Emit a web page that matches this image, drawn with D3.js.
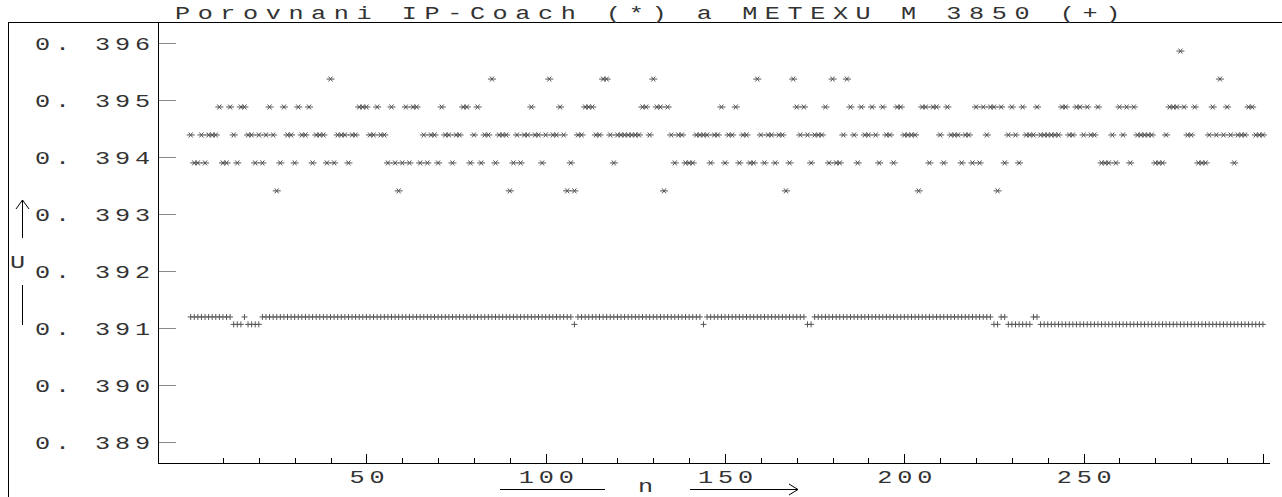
<!DOCTYPE html>
<html>
<head>
<meta charset="utf-8">
<script src="https://cdn.jsdelivr.net/npm/d3@7"></script>
<style>
  body { margin: 0; background: #fff; }
  svg text { font-family: 'Liberation Mono', 'DejaVu Sans Mono', monospace; fill: #333; }
</style>
</head>
<body>
<svg id="chart" width="1282" height="497"></svg>
<script>
'use strict'

// IP-Coach readings (*), one per sample n = 1..300
const coachValues = [
  0.39439, 0.39390, 0.39390, 0.39439, 0.39390, 0.39439, 0.39439, 0.39439, 0.39488, 0.39390,
  0.39390, 0.39488, 0.39439, 0.39390, 0.39488, 0.39488, 0.39439, 0.39439, 0.39390, 0.39439,
  0.39390, 0.39439, 0.39488, 0.39439, 0.39341, 0.39390, 0.39488, 0.39439, 0.39439, 0.39390,
  0.39488, 0.39439, 0.39439, 0.39488, 0.39390, 0.39439, 0.39439, 0.39439, 0.39390, 0.39537,
  0.39390, 0.39439, 0.39439, 0.39439, 0.39390, 0.39439, 0.39439, 0.39488, 0.39488, 0.39488,
  0.39439, 0.39439, 0.39488, 0.39439, 0.39439, 0.39390, 0.39488, 0.39390, 0.39341, 0.39390,
  0.39488, 0.39390, 0.39488, 0.39488, 0.39390, 0.39439, 0.39390, 0.39439, 0.39439, 0.39390,
  0.39488, 0.39439, 0.39439, 0.39390, 0.39439, 0.39439, 0.39488, 0.39488, 0.39390, 0.39439,
  0.39488, 0.39390, 0.39439, 0.39439, 0.39537, 0.39390, 0.39439, 0.39439, 0.39439, 0.39341,
  0.39390, 0.39439, 0.39390, 0.39439, 0.39439, 0.39488, 0.39439, 0.39439, 0.39390, 0.39439,
  0.39537, 0.39439, 0.39439, 0.39488, 0.39439, 0.39341, 0.39390, 0.39341, 0.39439, 0.39439,
  0.39488, 0.39488, 0.39488, 0.39439, 0.39439, 0.39537, 0.39537, 0.39439, 0.39390, 0.39439,
  0.39439, 0.39439, 0.39439, 0.39439, 0.39439, 0.39439, 0.39488, 0.39488, 0.39439, 0.39537,
  0.39488, 0.39488, 0.39341, 0.39488, 0.39439, 0.39390, 0.39439, 0.39439, 0.39390, 0.39390,
  0.39390, 0.39439, 0.39439, 0.39439, 0.39439, 0.39390, 0.39439, 0.39439, 0.39488, 0.39390,
  0.39439, 0.39439, 0.39488, 0.39390, 0.39439, 0.39439, 0.39390, 0.39390, 0.39537, 0.39439,
  0.39390, 0.39439, 0.39439, 0.39390, 0.39439, 0.39439, 0.39341, 0.39390, 0.39537, 0.39488,
  0.39439, 0.39488, 0.39439, 0.39390, 0.39439, 0.39439, 0.39439, 0.39488, 0.39390, 0.39537,
  0.39390, 0.39390, 0.39439, 0.39537, 0.39488, 0.39439, 0.39390, 0.39488, 0.39439, 0.39439,
  0.39488, 0.39439, 0.39390, 0.39488, 0.39439, 0.39439, 0.39390, 0.39488, 0.39488, 0.39439,
  0.39439, 0.39439, 0.39439, 0.39341, 0.39488, 0.39488, 0.39390, 0.39488, 0.39488, 0.39439,
  0.39390, 0.39488, 0.39439, 0.39439, 0.39439, 0.39390, 0.39439, 0.39439, 0.39390, 0.39488,
  0.39390, 0.39488, 0.39439, 0.39488, 0.39488, 0.39341, 0.39488, 0.39390, 0.39439, 0.39488,
  0.39439, 0.39390, 0.39488, 0.39439, 0.39439, 0.39439, 0.39488, 0.39439, 0.39439, 0.39439,
  0.39439, 0.39439, 0.39439, 0.39488, 0.39488, 0.39439, 0.39439, 0.39488, 0.39488, 0.39439,
  0.39488, 0.39439, 0.39439, 0.39488, 0.39390, 0.39390, 0.39390, 0.39439, 0.39390, 0.39488,
  0.39439, 0.39488, 0.39390, 0.39488, 0.39439, 0.39439, 0.39439, 0.39439, 0.39439, 0.39390,
  0.39390, 0.39390, 0.39439, 0.39488, 0.39488, 0.39488, 0.39586, 0.39488, 0.39439, 0.39439,
  0.39488, 0.39390, 0.39390, 0.39390, 0.39439, 0.39488, 0.39439, 0.39537, 0.39439, 0.39488,
  0.39439, 0.39390, 0.39439, 0.39439, 0.39439, 0.39488, 0.39488, 0.39439, 0.39439, 0.39439
]

// METEXU M 3850 readings (+), one per sample n = 1..300
const metexHigh = 0.39120
const metexLow = 0.39107
const metexLowSamples = [13, 14, 15, 17, 18, 19, 20, 108, 144, 173, 174, 225, 226,
  229, 230, 231, 232, 233, 234, 235]
const metexValues = d3.range(1, 301).map(n =>
  (metexLowSamples.includes(n) || n >= 238) ? metexLow : metexHigh)

const yTickValues = [0.389, 0.390, 0.391, 0.392, 0.393, 0.394, 0.395, 0.396]
const xTickValues = [50, 100, 150, 200, 250]

const svg = d3.select('#chart')

const x = d3.scaleLinear().domain([-8, 302]).range([158.4, 1270.1])
const y = d3.scaleLinear().domain([0.38864, 0.39637]).range([463, 22])

// wide, thin lettering like the old plotter font
const FONT = 18
const NATIVE = FONT * 0.6
const SX = 1.4
function wideText (sel, str, px, py, advance, anchor) {
  return sel.append('text')
    .attr('transform', `translate(${px},${py}) scale(${SX},1)`)
    .attr('font-size', FONT)
    .attr('letter-spacing', advance / SX - NATIVE)
    .attr('text-anchor', anchor || 'start')
    .style('white-space', 'pre')
    .text(str)
}

// frame
svg.append('line').attr('x1', 8.5).attr('x2', 8.5).attr('y1', 22).attr('y2', 497)
  .attr('stroke', '#000')
svg.append('line').attr('x1', 8).attr('x2', 1282).attr('y1', 22.5).attr('y2', 22.5)
  .attr('stroke', '#000')

wideText(svg, 'Porovnani IP-Coach (*) a METEXU M 3850 (+)', 175, 19, 22.7)

// axes
svg.append('line').attr('x1', 158.5).attr('x2', 158.5).attr('y1', 22).attr('y2', 463.5)
  .attr('stroke', '#000')
svg.append('line').attr('x1', 158).attr('x2', 1270).attr('y1', 463.5).attr('y2', 463.5)
  .attr('stroke', '#000')

const yTicks = svg.append('g')
yTicks.selectAll('line').data(yTickValues).enter().append('line')
  .attr('x1', 159).attr('x2', 176)
  .attr('y1', d => Math.round(y(d)) + 0.5).attr('y2', d => Math.round(y(d)) + 0.5)
  .attr('stroke', '#888')
yTickValues.forEach(d => {
  wideText(yTicks, d3.format('.3f')(d).replace('.', '. '), 35, y(d) + 7, 20)
})

const xTicks = svg.append('g')
xTicks.selectAll('line').data(d3.range(10, 301, 10)).enter().append('line')
  .attr('x1', d => Math.round(x(d)) + 0.5).attr('x2', d => Math.round(x(d)) + 0.5)
  .attr('y1', 463).attr('y2', d => d % 50 === 0 ? 454 : 458)
  .attr('stroke', '#000')
xTickValues.forEach(d => {
  wideText(xTicks, String(d), x(d) + 3, 483, 20, 'middle')
})

// axis titles
const yLabel = svg.append('g')
yLabel.append('line').attr('x1', 22.5).attr('x2', 22.5).attr('y1', 200).attr('y2', 238).attr('stroke', '#000')
yLabel.append('path').attr('d', 'M16,209L22.5,200L29,209').attr('fill', 'none').attr('stroke', '#000')
wideText(yLabel, 'U', 10, 268, 20)
yLabel.append('line').attr('x1', 22.5).attr('x2', 22.5).attr('y1', 285).attr('y2', 325).attr('stroke', '#000')

const xLabel = svg.append('g')
xLabel.append('line').attr('x1', 500).attr('x2', 605).attr('y1', 489.5).attr('y2', 489.5).attr('stroke', '#000')
wideText(xLabel, 'n', 638, 492, 20)
xLabel.append('line').attr('x1', 690).attr('x2', 798).attr('y1', 489.5).attr('y2', 489.5).attr('stroke', '#000')
xLabel.append('path').attr('d', 'M789,484L798,489.5L789,495').attr('fill', 'none').attr('stroke', '#000')

// markers
const starPath = 'M-4,0L4,0M-2,-2.5L2,2.5M-2,2.5L2,-2.5'
const plusPath = 'M-3,0L3,0M0,-3L0,3'

svg.append('g').selectAll('path').data(coachValues).enter().append('path')
  .attr('transform', (d, i) => `translate(${x(i + 1)},${y(d)})`)
  .attr('d', starPath)
  .attr('fill', 'none').attr('stroke', '#555').attr('stroke-width', 1)

svg.append('g').selectAll('path').data(metexValues).enter().append('path')
  .attr('transform', (d, i) => `translate(${x(i + 1)},${y(d)})`)
  .attr('d', plusPath)
  .attr('fill', 'none').attr('stroke', '#555').attr('stroke-width', 1)
</script>
</body>
</html>
